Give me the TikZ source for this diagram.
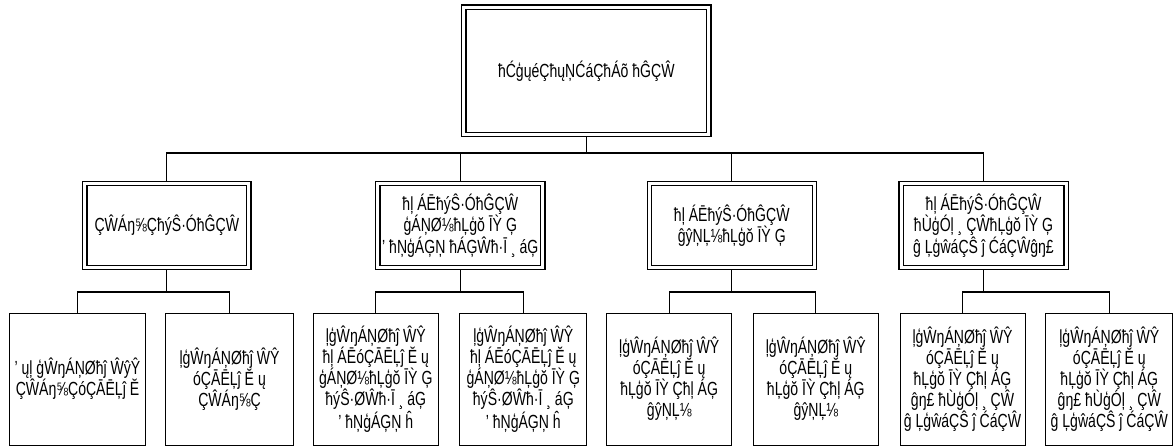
\documentclass[tikz,border=0pt]{standalone}
\usepackage{fontspec}
\setmainfont{Liberation Sans}[FakeStretch=0.74]
\begin{document}
\begin{tikzpicture}[x=1pt,y=-1pt,
  dbox/.style={draw,line width=1.2pt,double,double distance=3pt,outer sep=2.7pt,inner sep=0pt,align=center,font=\fontsize{19}{21.3}\selectfont},
  sbox/.style={draw,line width=1pt,inner sep=0pt,outer sep=0.5pt,align=center,font=\fontsize{19}{21}\selectfont},
  conn/.style={line width=1.2pt}]
\useasboundingbox (0,0) rectangle (1174,446);
\node[dbox,minimum width=245pt,minimum height=127.6pt] (top) at (586.3,71) {ħĆģųéÇħųŅĆáÇħÁõ ħĜÇŴ};
\node[dbox,minimum width=164pt,minimum height=83.5pt] (A) at (166.8,225.5) {ÇŴÁŋ⅝ÇħýŜ·ÓħĜÇŴ};
\node[dbox,minimum width=165pt,minimum height=83.5pt] (B) at (460.3,225.5) {ħļ ÁĒħýŜ·ÓħĜÇŴ\\ģÁŅØ⅛ħĻģŏ ĪỲ Ģ\\' ħŅģÁĢŅ ħÁĢŴħ·Ī ¸ áĢ};
\node[dbox,minimum width=165pt,minimum height=83.5pt] (C) at (731.8,225.5) {ħļ ÁĒħýŜ·ÓħĜÇŴ\\ĝŷŅĻ⅛ħĻģŏ ĪỲ Ģ};
\node[dbox,minimum width=165pt,minimum height=83.5pt] (D) at (983.5,225.5) {ħļ ÁĒħýŜ·ÓħĜÇŴ\\ħÙģÓļ ¸ ÇŴħĻģŏ ĪỲ Ģ\\ĝ ĻģŵáÇŜ ĵ ĆáÇŴĝŋ£};
\coordinate (bus) at (586.3,153);
\draw[conn] (top.south) -- (bus);
\foreach \n in {A,B,C,D} {\draw[conn] (\n.north) |- (bus);}
% bottom boxes
\node[sbox,minimum width=136.4pt,minimum height=131.7pt] (A1) at (77.5,379.2) {' ųļ ģŴŋÁŅØħĵ ŴŷŶ\\ÇŴÁŋ⅝ÇóÇĀĒĻĵ Ĕ};
\node[sbox,minimum width=127.6pt,minimum height=131.7pt] (A2) at (229.5,379.2) {ļģŴŋÁŅØħĵ ŴŶ\\óÇĀĒĻĵ Ĕ ų\\ÇŴÁŋ⅝Ç};
\node[sbox,minimum width=125pt,minimum height=131.7pt] (B1) at (375.8,379.2) {ļģŴŋÁŅØħĵ ŴŶ\\ħļ ÁĒóÇĀĒĻĵ Ĕ ų\\ģÁŅØ⅛ħĻģŏ ĪỲ Ģ\\ħýŜ·ØŴħ·Ī ¸ áĢ\\' ħŅģÁĢŅ ĥ};
\node[sbox,minimum width=126.7pt,minimum height=131.7pt] (B2) at (523.3,379.2) {ļģŴŋÁŅØħĵ ŴŶ\\ħļ ÁĒóÇĀĒĻĵ Ĕ ų\\ģÁŅØ⅛ħĻģŏ ĪỲ Ģ\\ħýŜ·ØŴħ·Ī ¸ áĢ\\' ħŅģÁĢŅ ĥ};
\node[sbox,minimum width=125pt,minimum height=131.7pt] (C1) at (669.2,379.2) {ļģŴŋÁŅØħĵ ŴŶ\\óÇĀĒĻĵ Ĕ ų\\ħĻģŏ ĪỲ Çħļ ÁĢ\\ĝŷŅĻ⅛};
\node[sbox,minimum width=125pt,minimum height=131.7pt] (C2) at (815.8,379.2) {ļģŴŋÁŅØħĵ ŴŶ\\óÇĀĒĻĵ Ĕ ų\\ħĻģŏ ĪỲ Çħļ ÁĢ\\ĝŷŅĻ⅛};
\node[sbox,minimum width=125pt,minimum height=131.7pt] (D1) at (962.5,379.2) {ļģŴŋÁŅØħĵ ŴŶ\\óÇĀĒĻĵ Ĕ ų\\ħĻģŏ ĪỲ Çħļ ÁĢ\\ĝŋ£ ħÙģÓļ ¸ ÇŴ\\ĝ ĻģŵáÇŜ ĵ ĆáÇŴ};
\node[sbox,minimum width=126.7pt,minimum height=131.7pt] (D2) at (1109.3,379.2) {ļģŴŋÁŅØħĵ ŴŶ\\óÇĀĒĻĵ Ĕ ų\\ħĻģŏ ĪỲ Çħļ ÁĢ\\ĝŋ£ ħÙģÓļ ¸ ÇŴ\\ĝ ĻģŵáÇŜ ĵ ĆáÇŴ};
\foreach \p/\l/\r in {A/A1/A2,B/B1/B2,C/C1/C2,D/D1/D2} {
  \coordinate (s\p) at ([yshift=-22pt]\p.south);
  \draw[conn] (\p.south) -- (s\p);
  \draw[conn] (\l.north) |- (s\p) -| (\r.north);
}
\end{tikzpicture}
\end{document}
